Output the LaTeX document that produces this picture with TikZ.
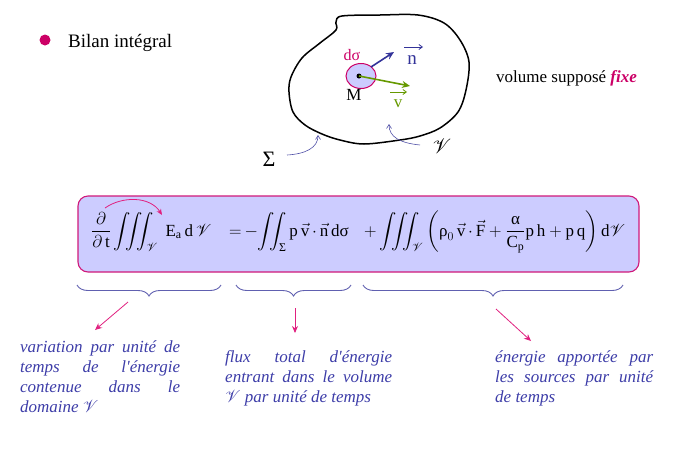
\documentclass[tikz,border=0pt]{standalone}
\usepackage{amsmath}
\usepackage{mathrsfs}
\usepackage{fontspec}
\setmainfont{Liberation Serif}
\usetikzlibrary{decorations.pathreplacing,arrows.meta,shapes.geometric}
\definecolor{lav}{HTML}{CCCCFF}
\definecolor{mag}{HTML}{CC0066}
\definecolor{boxborder}{HTML}{D0197A}
\definecolor{pinkarr}{HTML}{E0207F}
\definecolor{bluetxt}{HTML}{3D3DA8}
\definecolor{bracecol}{HTML}{6060B0}
\definecolor{nblue}{HTML}{333399}
\definecolor{vgreen}{HTML}{669900}
\newcommand\desctext[2]{\parbox[t]{#1}{\fontsize{17}{20}\selectfont\itshape\tolerance=10000\hyphenpenalty=10000 #2}}
\newcommand\gtxt[1]{\text{#1}}
\newcommand\eqfont{\fontsize{17}{20}\selectfont}
\newcommand\dotop{\mkern3mu{\cdot}\mkern3mu}
\begin{document}
\begin{tikzpicture}[x=1pt,y=-1pt,
  desc/.style={anchor=base west, inner sep=0pt, text=bluetxt},
  bracestyle/.style={draw=bracecol, line width=0.9pt, decorate, decoration={brace, mirror, amplitude=11pt}},
  pinkarrow/.style={draw=pinkarr, line width=0.8pt, -{Stealth[length=7pt,width=6pt]}},
  thinblue/.style={draw=nblue!85, line width=0.6pt, -{Straight Barb[length=4pt,width=5pt]}},
  vecbar/.style={line width=0.8pt, -{Straight Barb[length=3.5pt,width=5pt]}},
  lbl/.style={inner sep=0pt},
  eqpart/.style={inner sep=0pt, anchor=west}]
\useasboundingbox (0,0) rectangle (687,464);

% bullet and title
\fill[mag] (45,40) circle (5.5pt);
\node[lbl, anchor=base west] (title) at (68,47) {\fontsize{19}{22}\selectfont Bilan intégral};
\node[lbl, anchor=base west] (fixe) at (496,82) {\fontsize{17}{20}\selectfont volume supposé \textcolor{mag}{\textbf{\textit{fixe}}}};

% blob
\draw[line width=1.5pt] plot[smooth cycle, tension=0.55] coordinates {(342,16) (380,15) (418,15) (444,23) (460,40) (469,62) (466,90) (458,112) (440,128) (420,136) (400,140) (364,144) (340,140) (322,134) (305,125) (293,112) (289,92) (291,77) (302,58) (320,43) (336,30) (336,22)};

% element d sigma
\node[draw=mag, fill=lav, ellipse, minimum width=30pt, minimum height=25pt, inner sep=0pt, line width=1pt] (elem) at (361,76) {};
\fill (359,76) circle (2.5pt);
\coordinate (M0) at (359,76);
\coordinate (nstart) at (371,67);
\coordinate (nend) at (394,52);
\coordinate (vend) at (410,86);
\draw[nblue, line width=1.6pt, -{Stealth[length=8pt,width=7pt]}] (nstart) -- (nend);
\draw[vgreen, line width=1.6pt, -{Stealth[length=8pt,width=7pt]}] (M0) -- (vend);
\node[lbl, text=mag] (dsig) at (352,55) {\fontsize{16}{18}\selectfont dσ};
\node[lbl] (Mlab) at (354,95) {\fontsize{17}{20}\selectfont M};
\node[lbl, text=nblue] (nlab) at (412,60) {\fontsize{19}{20}\selectfont n};
\node[lbl, text=vgreen] (vlab) at (398,104) {\fontsize{17}{20}\selectfont v};
\coordinate (nbarA) at (404,47); \coordinate (nbarB) at (423,47);
\coordinate (vbarA) at (390,92); \coordinate (vbarB) at (407,92);
\draw[vecbar, nblue] (nbarA) -- (nbarB);
\draw[vecbar, vgreen] (vbarA) -- (vbarB);

% Sigma and V labels
\node[lbl] (Sig) at (269,159) {\fontsize{22}{24}\selectfont Σ};
\node[lbl] (Vlab) at (442,146) {\fontsize{22}{24}\selectfont $\mathscr{V}$};
\coordinate (sigA) at (287,155);
\coordinate (sigB) at (318,135);
\coordinate (vA) at (420,145);
\coordinate (vB) at (389,124);
\draw[thinblue] (sigA) .. controls (305,154) and (318,148) .. (sigB);
\draw[thinblue] (vA) .. controls (400,143) and (389,137) .. (vB);

% equation box
\node[draw=boxborder, fill=lav, rounded corners=10pt, minimum width=561pt, minimum height=76pt, line width=1.1pt, inner sep=0pt] (box) at (358.5,234) {};
\node[eqpart] (eqA) at (91,232) {\eqfont
$\displaystyle \frac{\partial}{\partial\,\mathrm{t}}\iiint_{\mathscr{V}}\;\mathrm{E}_{\mathrm{a}}\,\mathrm{d}\,\mathscr{V}$};
\node[eqpart] (eqB) at (229,232) {\eqfont
$\displaystyle {=}\,{-}\!\iint_{\gtxt{Σ}}\mathrm{p}\,\vec{\mathrm{v}}\dotop\vec{\mathrm{n}}\,\mathrm{d}\gtxt{σ}$};
\node[eqpart] (eqC) at (364,232) {\eqfont
$\displaystyle +\iiint_{\mathscr{V}}\left(\gtxt{ρ}_{0}\,\vec{\mathrm{v}}\dotop\vec{\mathrm{F}}+\frac{\gtxt{α}}{\mathrm{C}_{\mathrm{p}}}\mathrm{p\,h}+\mathrm{p\,q}\right)\mathrm{d}\mathscr{V}$};
\coordinate (cA) at (105,208);
\coordinate (cB) at (162,215);
\draw[draw=pinkarr, line width=0.8pt, -{Stealth[length=6pt,width=5pt]}] (cA) .. controls (122,196) and (150,196) .. (cB);

% braces
\coordinate (b1s) at (77,285); \coordinate (b1e) at (221,285);
\coordinate (b2s) at (236,285); \coordinate (b2e) at (351,285);
\coordinate (b3s) at (363,285); \coordinate (b3e) at (623,285);
\draw[bracestyle] (b1s) -- (b1e);
\draw[bracestyle] (b2s) -- (b2e);
\draw[bracestyle] (b3s) -- (b3e);

% pink arrows
\coordinate (a1s) at (128,302); \coordinate (a1e) at (95,330);
\coordinate (a2s) at (295,308); \coordinate (a2e) at (295,333);
\coordinate (a3s) at (496,309); \coordinate (a3e) at (531,341);
\draw[pinkarrow] (a1s) -- (a1e);
\draw[pinkarrow] (a2s) -- (a2e);
\draw[pinkarrow] (a3s) -- (a3e);

% descriptions
\node[desc] (t1) at (20,352) {\desctext{160pt}{variation par unité de\linebreak temps de l\textquotesingle énergie\linebreak contenue dans le\linebreak domaine $\mathscr{V}$}};
\node[desc] (t2) at (225,362) {\desctext{167pt}{flux total d\textquotesingle énergie\linebreak entrant dans le volume\linebreak $\mathscr{V}$ par unité de temps}};
\node[desc] (t3) at (495,362) {\desctext{158pt}{énergie apportée par\linebreak les sources par unité\linebreak de temps}};
\end{tikzpicture}
\end{document}
